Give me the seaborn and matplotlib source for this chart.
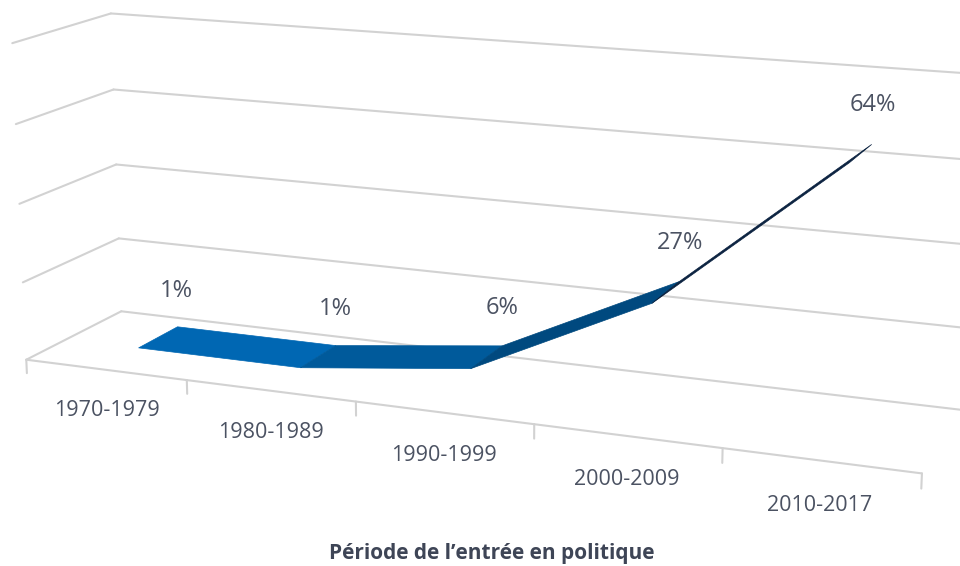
import matplotlib
matplotlib.use("Agg")
import matplotlib.pyplot as plt
from mpl_toolkits.mplot3d import proj3d
from mpl_toolkits.mplot3d.art3d import Poly3DCollection
import numpy as np
import seaborn as sns

# Data
periods = ["1970-1979", "1980-1989", "1990-1999", "2000-2009", "2010-2017"]
shares = [1, 1, 6, 27, 64]
share_labels = ["1%", "1%", "6%", "27%", "64%"]
grid_levels = [0, 20, 40, 60, 80]

# Style
seg_colors = ["#0067b3", "#005a9b", "#00497f", "#0b2240"]
grid_color = "#d2d2d2"
text_color = "#4b5262"

sns.set_theme(style="white")
plt.rcParams["font.family"] = ["Open Sans", "DejaVu Sans"]

fig = plt.figure(figsize=(9.6, 5.66), dpi=100)
ax = fig.add_axes([-0.006, 0.091, 1, 1], projection="3d")
ax.set_proj_type("persp", focal_length=0.85)
ax.view_init(elev=14, azim=-68)
ax.set_box_aspect((5, 1.05, 1.77), zoom=1.76)
ax.computed_zorder = False
ax.set_axis_off()

n = len(periods)
ax.set_xlim(0, n)
ax.set_ylim(0, 1)
ax.set_zlim(0, grid_levels[-1])


def line3d(xv, yv, zv):
    ax.plot(xv, yv, zv, color=grid_color, lw=1.5, zorder=1, clip_on=False)


# Walls: side wall + back wall gridlines
for z in grid_levels:
    line3d([0, 0], [0, 1], [z, z])
    line3d([0, n], [1, 1], [z, z])

# Floor front edge with tick marks between categories
line3d([0, n], [0, 0], [0, 0])
for b in range(n + 1):
    line3d([b, b], [0, 0], [0, -3.5])

# Ribbon
xs = np.arange(n) + 0.5
y0, y1 = 0.35, 0.78
verts = []
for i in range(n - 1):
    verts.append([(xs[i], y0, shares[i]), (xs[i], y1, shares[i]),
                  (xs[i + 1], y1, shares[i + 1]), (xs[i + 1], y0, shares[i + 1])])
ribbon = Poly3DCollection(verts, facecolors=seg_colors, edgecolors=seg_colors,
                          linewidths=0.5, zorder=3)
ribbon.set_clip_on(False)
ax.add_collection3d(ribbon)

# Project 3D anchor points to figure coords so labels are plain 2D texts
fig.canvas.draw()


def to_fig(x, y, z):
    px, py, _ = proj3d.proj_transform(x, y, z, ax.M)
    disp = ax.transData.transform((px, py))
    return fig.transFigure.inverted().transform(disp)


# Value labels
for x, v, lab in zip(xs, shares, share_labels):
    fx, fy = to_fig(x, y1, v + 6.5)
    fig.text(fx, fy, lab, ha="center", va="bottom", fontsize=17, color=text_color)

# Category labels
for x, lab in zip(xs, periods):
    fx, fy = to_fig(x, 0, -10.5)
    fig.text(fx, fy, lab, ha="center", va="center", fontsize=15.5, color=text_color)

fig.text(0.512, 0.004, "Période de l\u2019entrée en politique", ha="center",
         va="bottom", fontsize=15, fontweight="bold", color="#3e4556")

fig.savefig("out.png", dpi=100)
